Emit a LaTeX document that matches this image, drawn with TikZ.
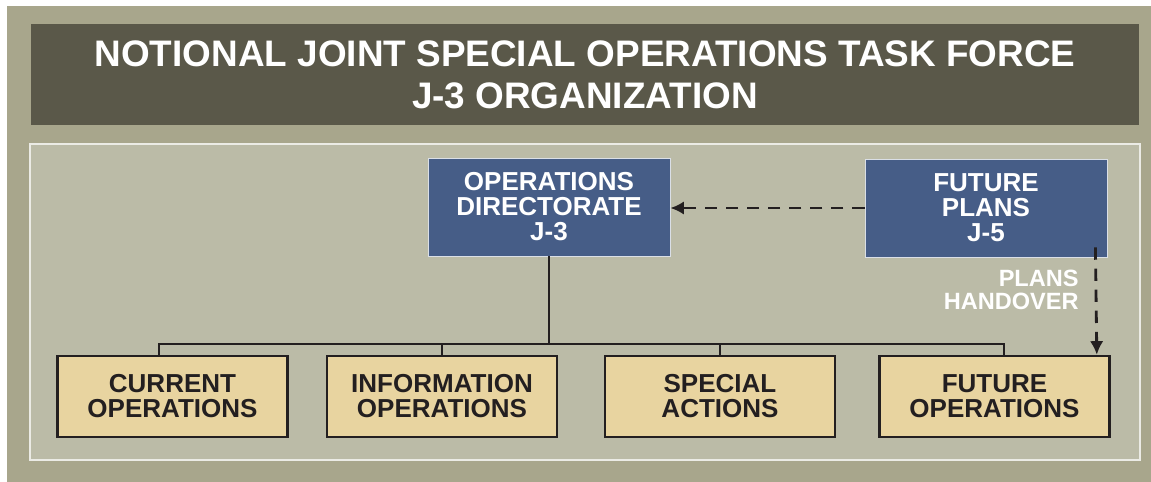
\documentclass[tikz,border=0pt]{standalone}
\usepackage{fontspec}
\setmainfont{Liberation Sans}
\usepackage{tikz}
\usetikzlibrary{
        arrows.meta,
        positioning
    }
\definecolor{outerbg}{HTML}{A8A68C}
\definecolor{panelbg}{HTML}{BBBBA7}
\definecolor{titlebg}{HTML}{5A5849}
\definecolor{dirblue}{HTML}{465D87}
\definecolor{tanfill}{HTML}{E8D4A0}
\definecolor{inkdark}{HTML}{231F20}

\begin{document}
\begin{tikzpicture}
[basebox/.style={rectangle, text centered, align=center, inner sep=0pt, font=\fontsize{14.8}{14.2}\bfseries\selectfont},
bluebox/.style={basebox, minimum width=4.84cm, minimum height=1.96cm, fill=dirblue, draw=white!80!dirblue, line width=0.5pt, text=white},
tanbox/.style={basebox, minimum width=4.6cm, minimum height=1.62cm, fill=tanfill, draw=inkdark, line width=1.5pt, text=inkdark},
link/.style={draw=inkdark, line width=1.4pt},
dasharrow/.style={link, line width=1.6pt, dash pattern=on 7pt off 5pt, -{Latex[length=0.27cm, width=0.27cm]}},
]

    \useasboundingbox (0,0) rectangle (23.02,-9.64);
    \fill[outerbg] (0.14,-0.12) rectangle (23.02,-9.64);
    \draw[fill=panelbg, draw=white!70!panelbg, line width=0.6pt] (0.6,-2.88) rectangle (22.8,-9.2);

    \node (title) [rectangle, fill=titlebg, minimum width=22.16cm, minimum height=2.02cm, text=white, align=center,
        font=\fontsize{21}{23.8}\bfseries\selectfont] at (11.7,-1.49)
        {NOTIONAL JOINT SPECIAL OPERATIONS TASK FORCE\\J-3 ORGANIZATION};

    \node (dir) [bluebox] at (10.98,-4.14) {OPERATIONS\\DIRECTORATE\\J-3};
    \node (plans) [bluebox] at (19.72,-4.16) {FUTURE\\PLANS\\J-5};

    \node (cur) [tanbox] at (3.45,-7.93) {CURRENT\\OPERATIONS};
    \node (info) [tanbox] at (8.84,-7.93) {INFORMATION\\OPERATIONS};
    \node (spec) [tanbox] at (14.4,-7.93) {SPECIAL\\ACTIONS};
    \node (fut) [tanbox] at (19.89,-7.93) {FUTURE\\OPERATIONS};

    % org tree
    \coordinate (bus) at (10.98,-6.88);
    \draw[link] (dir) -- (bus);
    \draw[link] ([xshift=-0.27cm]cur.north) |- (bus) -| ([xshift=0.19cm]fut.north);
    \draw[link] (info.north) -- (info.north |- bus);
    \draw[link] (spec.north) -- (spec.north |- bus);

    % plans handover
    \draw[dasharrow] (plans.west) -- (dir.east |- plans.west);
    \draw[dasharrow] ([xshift=-0.24cm, yshift=0.2cm]plans.south east) --
        node[pos=0.4, anchor=east, xshift=-0.32cm, inner sep=0pt, align=right, text=white,
        font=\fontsize{13.4}{13.1}\bfseries\selectfont]{PLANS\\HANDOVER}
        ([xshift=-0.28cm]fut.north east);
\end{tikzpicture}
\end{document}
